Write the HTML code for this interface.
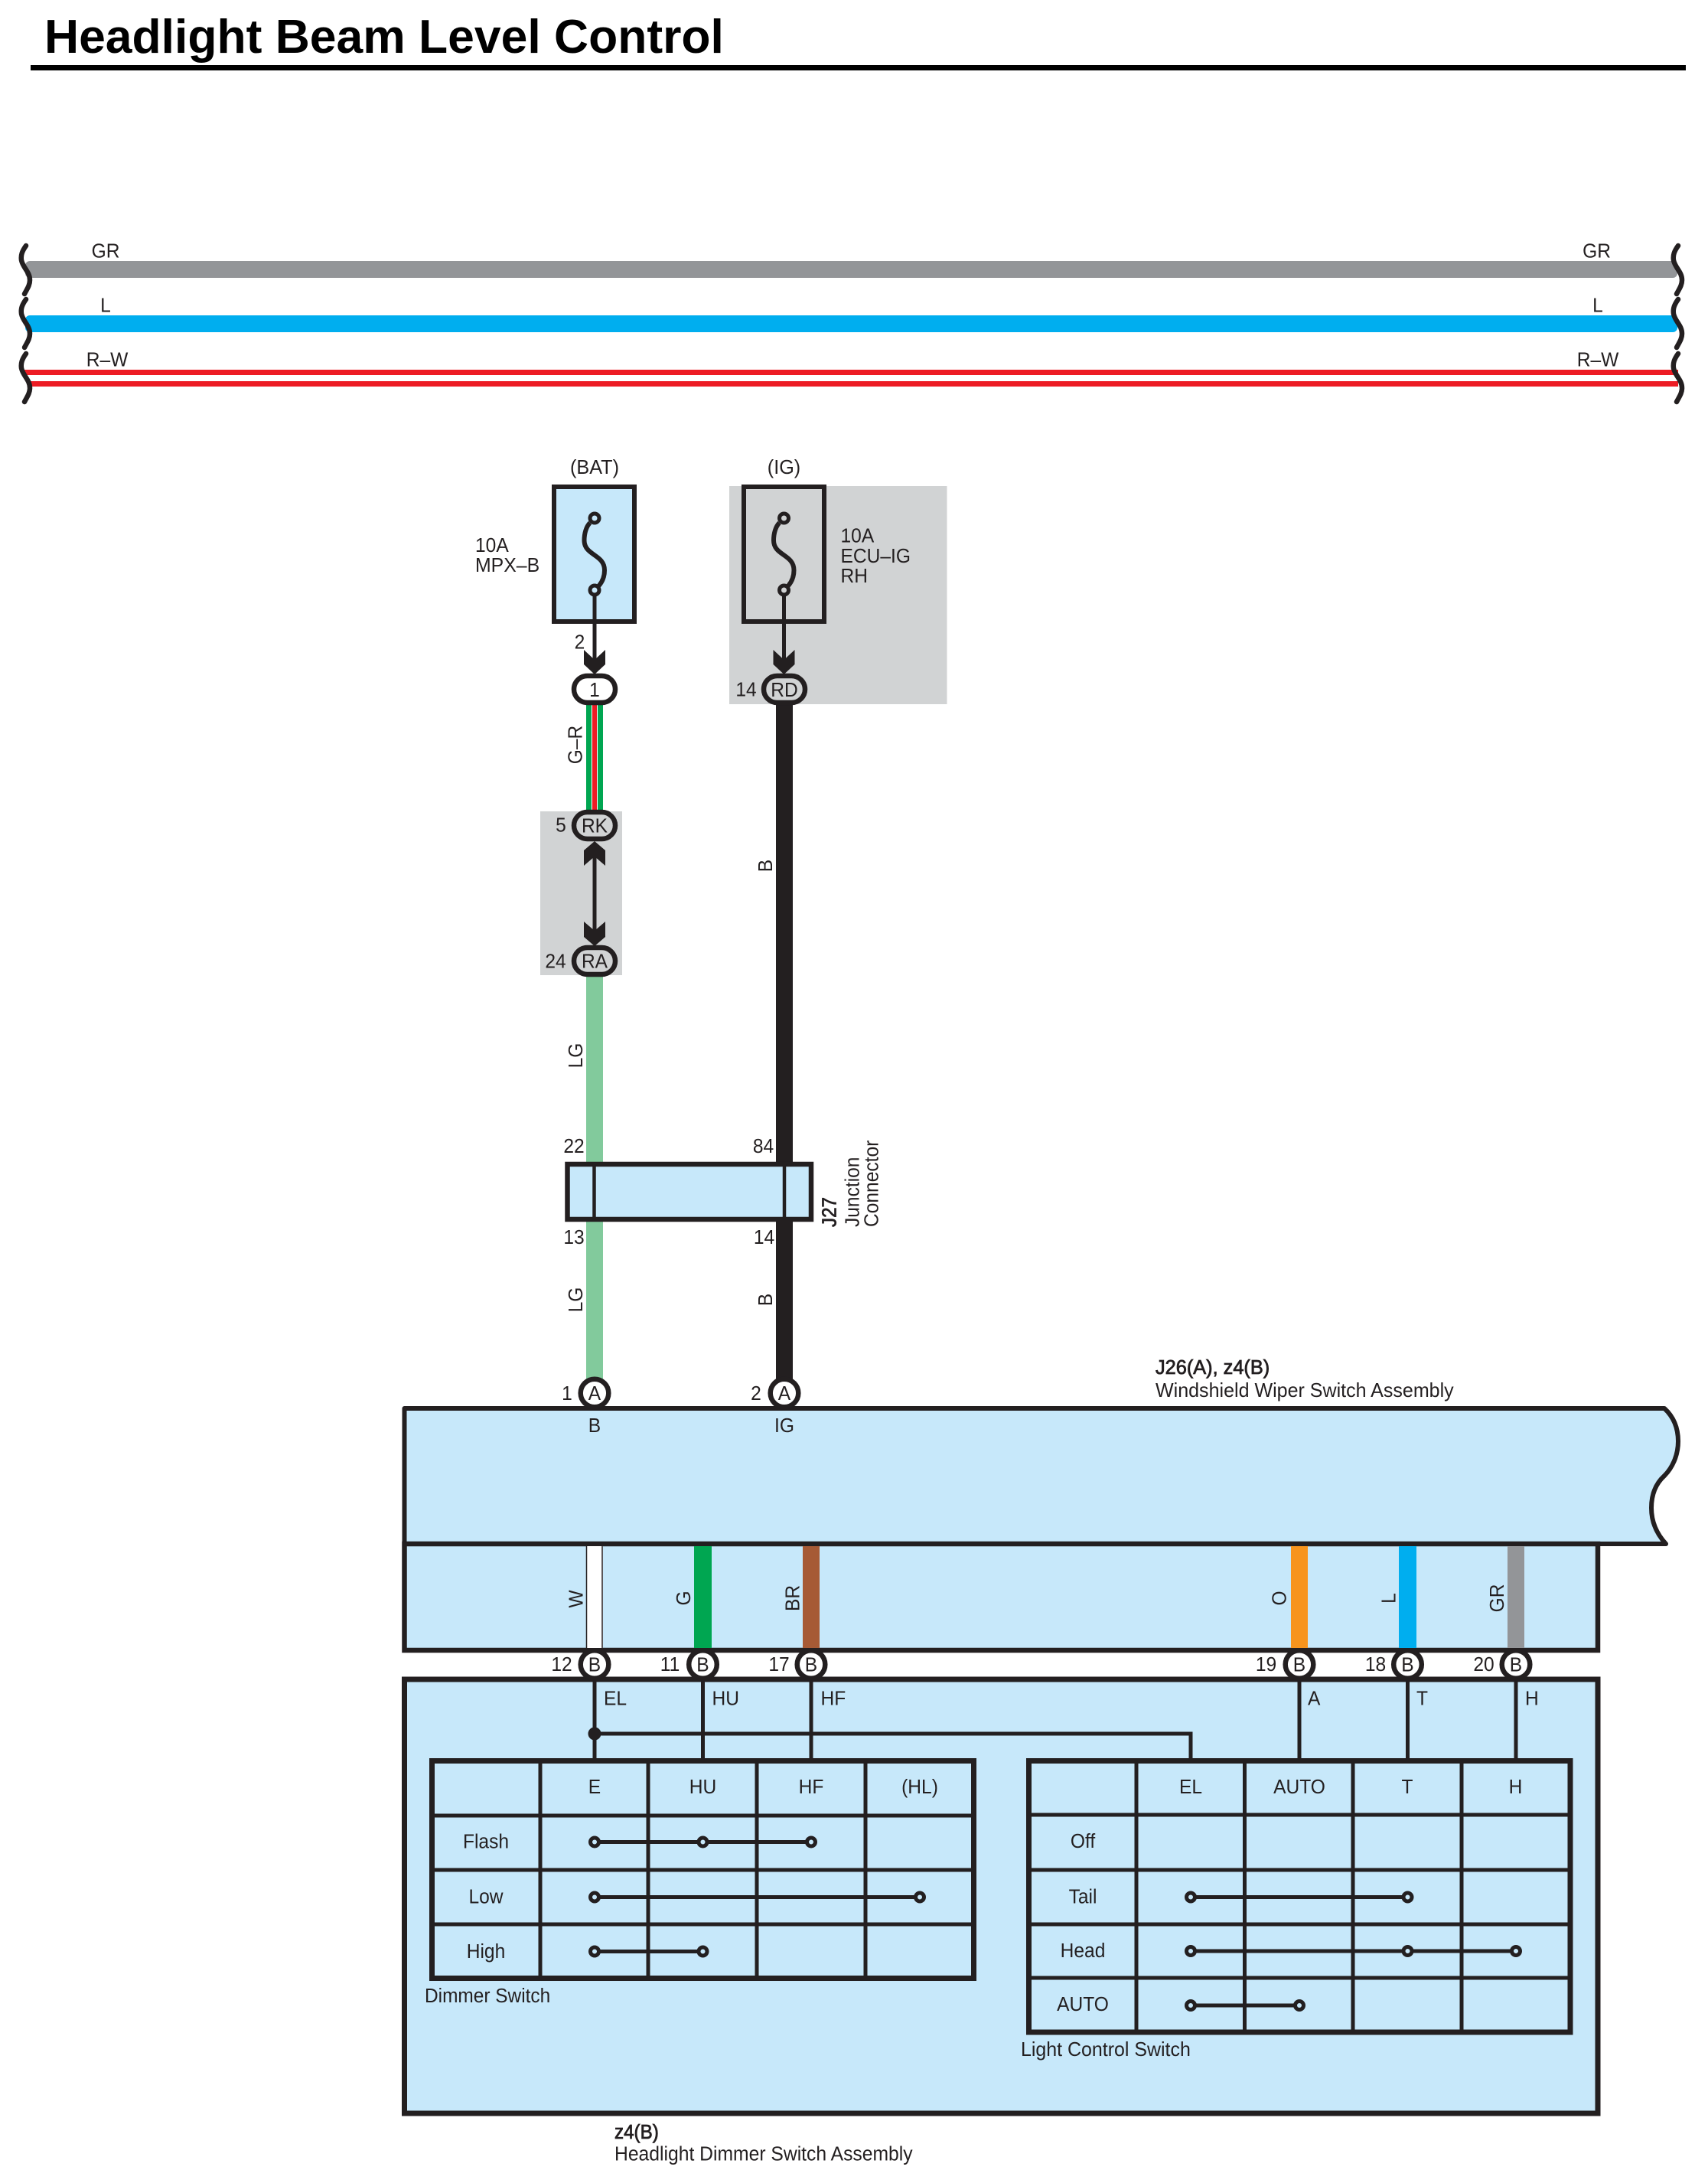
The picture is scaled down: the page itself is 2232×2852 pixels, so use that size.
<!DOCTYPE html>
<html><head><meta charset="utf-8"><title>Headlight Beam Level Control</title>
<style>
html,body{margin:0;padding:0;background:#fff}
svg{display:block}
text{font-family:"Liberation Sans",sans-serif;font-size:26px;fill:#231f20}
.m{text-anchor:middle}
.b{stroke:#231f20;stroke-width:.8px}
.k{fill:none;stroke:#231f20;stroke-width:5}
.o{fill:none;stroke:#231f20;stroke-width:7}
.c{fill:#c7e8fa;stroke:#231f20;stroke-width:5}
</style></head><body>
<svg xmlns="http://www.w3.org/2000/svg" width="2232" height="2852" viewBox="0 0 2232 2852">
<rect width="2232" height="2852" fill="#fff"/>
<!-- title -->
<text transform="translate(58 69) scale(1.007 1)" style="font-size:62px;font-weight:bold;fill:#000">Headlight Beam Level Control</text>
<rect x="40" y="85" width="2163" height="7" fill="#000"/>
<!-- bus bars -->
<rect x="33" y="341" width="2159" height="22" rx="6" fill="#939598"/>
<rect x="33" y="412" width="2159" height="22" rx="6" fill="#00aeef"/>
<rect x="32" y="483" width="2161" height="7" fill="#ed1c24"/>
<rect x="36" y="498" width="2157" height="7" fill="#ed1c24"/>
<g fill="none" stroke="#231f20" stroke-width="6.5" stroke-linecap="round">
<path d="M34 321C29 328 27 333 28 340C30 350 39 355 39 366C39 373 35 378 32 384"/>
<path d="M34 391C29 398 27 403 28 410C30 420 39 425 39 436C39 443 35 448 32 454"/>
<path d="M34 462C29 469 27 474 28 481C30 491 39 496 39 507C39 514 35 519 32 525"/>
<path d="M2193 321C2188 328 2186 333 2187 340C2189 350 2198 355 2198 366C2198 373 2194 378 2191 384"/>
<path d="M2193 391C2188 398 2186 403 2187 410C2189 420 2198 425 2198 436C2198 443 2194 448 2191 454"/>
<path d="M2193 462C2188 469 2186 474 2187 481C2189 491 2198 496 2198 507C2198 514 2194 519 2191 525"/>
</g>
<text class="m" transform="translate(138 336.500) scale(.945 1)">GR</text>
<text class="m" transform="translate(138 407.500) scale(.945 1)">L</text>
<text class="m" transform="translate(140 478.500) scale(.945 1)">R–W</text>
<text class="m" transform="translate(2086.500 336.500) scale(.945 1)">GR</text>
<text class="m" transform="translate(2088 407.500) scale(.945 1)">L</text>
<text class="m" transform="translate(2088 478.500) scale(.945 1)">R–W</text>

<!-- grey backgrounds -->
<rect x="953" y="635" width="284.500" height="285" fill="#d1d3d4"/>
<rect x="706" y="1060" width="107" height="214" fill="#d1d3d4"/>

<!-- fuses -->
<rect x="724" y="636" width="105" height="176" fill="#c7e8fa" stroke="#231f20" stroke-width="6"/>
<rect x="972" y="636" width="105" height="176" fill="none" stroke="#231f20" stroke-width="6"/>
<g fill="none" stroke="#231f20" stroke-width="6">
<path d="M771 683C766 688 763.500 697 763.500 706C763.500 726 790 724 790 745C790 755 786 762 781 767"/>
<path d="M1018.500 683C1013.500 688 1011 697 1011 706C1011 726 1037.500 724 1037.500 745C1037.500 755 1033.500 762 1028.500 767"/>
</g>
<path d="M777 776V865M1024.500 776V865M777 1115V1220" fill="none" stroke="#231f20" stroke-width="5"/>
<circle cx="777" cy="677" r="6" fill="#c7e8fa" stroke="#231f20" stroke-width="5"/>
<circle cx="777" cy="771" r="6" fill="#c7e8fa" stroke="#231f20" stroke-width="5"/>
<circle cx="1024.500" cy="677" r="6" fill="#d1d3d4" stroke="#231f20" stroke-width="5"/>
<circle cx="1024.500" cy="771" r="6" fill="#d1d3d4" stroke="#231f20" stroke-width="5"/>
<text class="m" transform="translate(777 619) scale(.97 1)">(BAT)</text>
<text class="m" transform="translate(1024.500 619) scale(.97 1)">(IG)</text>
<text transform="translate(621 721) scale(.945 1)">10A</text>
<text transform="translate(621 747) scale(.955 1)">MPX–B</text>
<text transform="translate(1098.500 708.500) scale(.945 1)">10A</text>
<text transform="translate(1098.500 735) scale(.945 1)">ECU–IG</text>
<text transform="translate(1098.500 761) scale(.945 1)">RH</text>

<!-- wires -->
<rect x="766" y="918" width="22" height="146" fill="#fff"/>
<rect x="766" y="918" width="7" height="146" fill="#00a651"/>
<rect x="774" y="918" width="6" height="146" fill="#ed1c24"/>
<rect x="781" y="918" width="7" height="146" fill="#00a651"/>
<rect x="1014" y="918" width="22" height="884" fill="#231f20"/>
<rect x="766" y="1272" width="22" height="248" fill="#82ca9c"/>
<rect x="766" y="1594" width="22" height="208" fill="#82ca9c"/>

<!-- arrowheads -->
<g fill="#231f20">
<polygon points="763,849 777,862 791,849 791,868 777,881 763,868"/>
<polygon points="1010.500,849 1024.500,862 1038.500,849 1038.500,868 1024.500,881 1010.500,868"/>
<polygon points="777,1099 791,1111 791,1131 777,1119 763,1131 763,1111"/>
<polygon points="763,1204 777,1216 791,1204 791,1224 777,1236 763,1224"/>
</g>

<!-- ovals -->
<g stroke="#231f20" stroke-width="6.500">
<rect x="750" y="883" width="54" height="35" rx="17.500" fill="#fff"/>
<rect x="998" y="883" width="54" height="35" rx="17.500" fill="#d1d3d4"/>
<rect x="750" y="1061" width="54" height="35" rx="17.500" fill="#d1d3d4"/>
<rect x="750" y="1238" width="54" height="35" rx="17.500" fill="#d1d3d4"/>
</g>
<text class="m" transform="translate(777 910) scale(.945 1)">1</text>
<text class="m" transform="translate(1025 910) scale(.945 1)">RD</text>
<text class="m" transform="translate(777 1087.500) scale(.945 1)">RK</text>
<text class="m" transform="translate(777 1264.500) scale(.945 1)">RA</text>
<text class="m" transform="translate(757.500 847.500) scale(.945 1)">2</text>
<text class="m" transform="translate(975 909.500) scale(.945 1)">14</text>
<text class="m" transform="translate(733 1086.500) scale(.945 1)">5</text>
<text class="m" transform="translate(726 1264.500) scale(.945 1)">24</text>
<text class="m" transform="translate(760.500 973) rotate(-90) scale(.945 1)">G–R</text>
<text class="m" transform="translate(1009 1131) rotate(-90) scale(.945 1)">B</text>
<text class="m" transform="translate(761 1379) rotate(-90) scale(.945 1)">LG</text>

<!-- J27 -->
<rect x="741.500" y="1521" width="318.500" height="72" fill="#c7e8fa" stroke="#231f20" stroke-width="6.500"/>
<path d="M776.500 1521V1593M1025 1521V1593" stroke="#231f20" stroke-width="4.500" fill="none"/>
<text class="m" transform="translate(750 1506) scale(.945 1)">22</text>
<text class="m" transform="translate(997.500 1506) scale(.945 1)">84</text>
<text class="m" transform="translate(750 1625) scale(.945 1)">13</text>
<text class="m" transform="translate(998.500 1625) scale(.945 1)">14</text>
<text class="m" transform="translate(761 1698) rotate(-90) scale(.945 1)">LG</text>
<text class="m" transform="translate(1009 1698) rotate(-90) scale(.945 1)">B</text>
<text class="b" transform="translate(1092.500 1603) rotate(-90) scale(.93 1)">J27</text>
<text transform="translate(1122.500 1603) rotate(-90) scale(.945 1)">Junction</text>
<text transform="translate(1147.500 1603) rotate(-90) scale(.945 1)">Connector</text>

<!-- main assembly -->
<path d="M528.500 2017V1840H2175C2187 1851 2193 1866 2193 1883C2193 1902 2185 1918 2175 1928C2164 1938 2158 1952 2158 1970C2158 1988 2165 2004 2177 2017Z" fill="#c7e8fa" stroke="#231f20" stroke-width="6" stroke-linejoin="round"/>
<rect x="528.500" y="2017" width="1559.500" height="139" fill="#c7e8fa" stroke="#231f20" stroke-width="6.500"/>
<rect x="528.500" y="2194" width="1559.500" height="567" fill="#c7e8fa" stroke="#231f20" stroke-width="7"/>
<!-- lower wires -->
<rect x="766" y="2020" width="22" height="133" fill="#fff"/>
<path d="M766.500 2020V2153M787 2020V2153" stroke="#231f20" stroke-width="1.500"/>
<rect x="907" y="2020" width="23" height="133" fill="#00a651"/>
<rect x="1049" y="2020" width="22" height="133" fill="#a65a35"/>
<rect x="1687" y="2020" width="22" height="133" fill="#f7941d"/>
<rect x="1828" y="2020" width="23" height="133" fill="#00aeef"/>
<rect x="1970" y="2020" width="22" height="133" fill="#939598"/>
<!-- top A pins -->
<circle cx="777" cy="1820" r="18.300" fill="#fff" stroke="#231f20" stroke-width="6.500"/>
<circle cx="1025" cy="1820" r="18.300" fill="#fff" stroke="#231f20" stroke-width="6.500"/>
<text class="m" transform="translate(777 1829) scale(.945 1)">A</text>
<text class="m" transform="translate(1025 1829) scale(.945 1)">A</text>
<text class="m" transform="translate(741 1829) scale(.945 1)">1</text>
<text class="m" transform="translate(988 1829) scale(.945 1)">2</text>
<text class="m" transform="translate(777 1871) scale(.945 1)">B</text>
<text class="m" transform="translate(1025 1871) scale(.945 1)">IG</text>
<text class="b" transform="translate(1510 1795) scale(.975 1)">J26(A), z4(B)</text>
<text transform="translate(1510 1825) scale(.964 1)">Windshield Wiper Switch Assembly</text>
<!-- wire labels -->
<text class="m" transform="translate(761.500 2089) rotate(-90) scale(.945 1)">W</text>
<text class="m" transform="translate(902 2088) rotate(-90) scale(.945 1)">G</text>
<text class="m" transform="translate(1044.500 2088) rotate(-90) scale(.945 1)">BR</text>
<text class="m" transform="translate(1680.500 2088) rotate(-90) scale(.945 1)">O</text>
<text class="m" transform="translate(1823.500 2088) rotate(-90) scale(.945 1)">L</text>
<text class="m" transform="translate(1965 2088) rotate(-90) scale(.945 1)">GR</text>
<!-- B pins -->
<g fill="#fff" stroke="#231f20" stroke-width="6.500">
<circle cx="777" cy="2174.500" r="18.300"/><circle cx="918.500" cy="2174.500" r="18.300"/><circle cx="1060" cy="2174.500" r="18.300"/>
<circle cx="1698" cy="2174.500" r="18.300"/><circle cx="1839.500" cy="2174.500" r="18.300"/><circle cx="1981" cy="2174.500" r="18.300"/>
</g>
<text class="m" transform="translate(777 2183.500) scale(.945 1)">B</text>
<text class="m" transform="translate(918.500 2183.500) scale(.945 1)">B</text>
<text class="m" transform="translate(1060 2183.500) scale(.945 1)">B</text>
<text class="m" transform="translate(1698 2183.500) scale(.945 1)">B</text>
<text class="m" transform="translate(1839.500 2183.500) scale(.945 1)">B</text>
<text class="m" transform="translate(1981 2183.500) scale(.945 1)">B</text>
<text class="m" transform="translate(734 2183) scale(.945 1)">12</text>
<text class="m" transform="translate(875.500 2183) scale(.945 1)">11</text>
<text class="m" transform="translate(1018 2183) scale(.945 1)">17</text>
<text class="m" transform="translate(1654.500 2183) scale(.945 1)">19</text>
<text class="m" transform="translate(1797.500 2183) scale(.945 1)">18</text>
<text class="m" transform="translate(1939 2183) scale(.945 1)">20</text>
<!-- drops -->
<path class="k" d="M777 2196V2300M918.500 2196V2300M1060 2196V2300M1698 2196V2300M1839.500 2196V2300M1981 2196V2300M777 2265H1556V2300"/>
<circle cx="777" cy="2265" r="8.500" fill="#231f20"/>
<text transform="translate(789 2227.500) scale(.945 1)">EL</text>
<text transform="translate(930.500 2227.500) scale(.945 1)">HU</text>
<text transform="translate(1072.500 2227.500) scale(.945 1)">HF</text>
<text transform="translate(1709 2227.500) scale(.945 1)">A</text>
<text transform="translate(1851 2227.500) scale(.945 1)">T</text>
<text transform="translate(1993 2227.500) scale(.945 1)">H</text>

<!-- dimmer table -->
<path class="k" d="M706 2300V2584M847 2300V2584M989 2300V2584M1131 2300V2584M564.500 2372H1272.500M564.500 2443H1272.500M564.500 2514H1272.500"/>
<rect class="o" x="564.500" y="2300.500" width="708" height="284"/>
<text class="m" transform="translate(777 2343) scale(.945 1)">E</text>
<text class="m" transform="translate(918.500 2343) scale(.945 1)">HU</text>
<text class="m" transform="translate(1060 2343) scale(.945 1)">HF</text>
<text class="m" transform="translate(1202 2343) scale(.945 1)">(HL)</text>
<text class="m" transform="translate(635 2414.500) scale(.945 1)">Flash</text>
<text class="m" transform="translate(635 2486.500) scale(.945 1)">Low</text>
<text class="m" transform="translate(635 2558) scale(.945 1)">High</text>
<path class="k" d="M777 2406.500H1060M777 2478.500H1202M777 2549.500H918.500"/>
<circle class="c" cx="777" cy="2406.500" r="5.500"/><circle class="c" cx="918.500" cy="2406.500" r="5.500"/><circle class="c" cx="1060" cy="2406.500" r="5.500"/>
<circle class="c" cx="777" cy="2478.500" r="5.500"/><circle class="c" cx="1202" cy="2478.500" r="5.500"/>
<circle class="c" cx="777" cy="2549.500" r="5.500"/><circle class="c" cx="918.500" cy="2549.500" r="5.500"/>
<text transform="translate(555 2616) scale(.94 1)">Dimmer Switch</text>

<!-- light control table -->
<path class="k" d="M1485 2300V2655M1626.500 2300V2655M1768 2300V2655M1910 2300V2655M1344.500 2371H2052M1344.500 2443H2052M1344.500 2514H2052M1344.500 2584H2052"/>
<rect class="o" x="1344.500" y="2300.500" width="707.500" height="354.500"/>
<text class="m" transform="translate(1556 2343) scale(.945 1)">EL</text>
<text class="m" transform="translate(1698 2343) scale(.945 1)">AUTO</text>
<text class="m" transform="translate(1839 2343) scale(.945 1)">T</text>
<text class="m" transform="translate(1980.500 2343) scale(.945 1)">H</text>
<text class="m" transform="translate(1415 2414) scale(.945 1)">Off</text>
<text class="m" transform="translate(1415 2486.500) scale(.945 1)">Tail</text>
<text class="m" transform="translate(1415 2557) scale(.945 1)">Head</text>
<text class="m" transform="translate(1415 2627) scale(.945 1)">AUTO</text>
<path class="k" d="M1556 2478.500H1839.500M1556 2549H1981M1556 2620H1698"/>
<circle class="c" cx="1556" cy="2478.500" r="5.500"/><circle class="c" cx="1839.500" cy="2478.500" r="5.500"/>
<circle class="c" cx="1556" cy="2549" r="5.500"/><circle class="c" cx="1839.500" cy="2549" r="5.500"/><circle class="c" cx="1981" cy="2549" r="5.500"/>
<circle class="c" cx="1556" cy="2620" r="5.500"/><circle class="c" cx="1698" cy="2620" r="5.500"/>
<text transform="translate(1334 2686) scale(.96 1)">Light Control Switch</text>

<!-- bottom label -->
<text class="b" transform="translate(803 2794) scale(.93 1)">z4(B)</text>
<text transform="translate(803 2822.500) scale(.95 1)">Headlight Dimmer Switch Assembly</text>
</svg>
</body></html>
